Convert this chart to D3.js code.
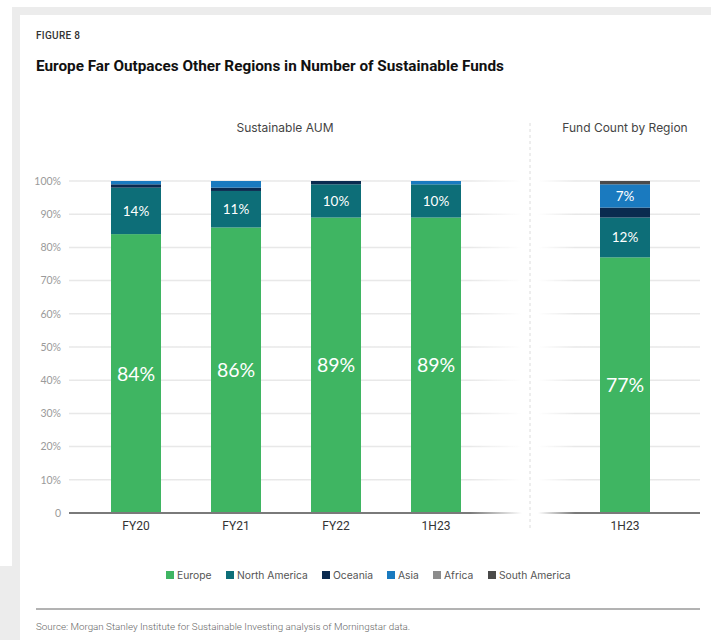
<!DOCTYPE html>
<html>
<head>
<meta charset="utf-8">
<script src="https://cdn.jsdelivr.net/npm/d3@7"></script>
<style>
  html, body { margin: 0; padding: 0; background: #fff; }
  svg { display: block; }
</style>
</head>
<body>
<svg id="chart" width="711" height="640"></svg>
<script>
// Region shares (% of total), stacked bottom-to-top
const regions = ["Europe", "North America", "Oceania", "Asia", "Africa", "South America"];
const regionColors = ["#3fb562", "#0d6e78", "#0a2a4f", "#1a7abf", "#8c8c8c", "#4a4a4a"];

// Sustainable AUM by period
const aumPeriods = ["FY20", "FY21", "FY22", "1H23"];
const aumEurope       = [84, 86, 89, 89];
const aumNorthAmerica = [14, 11, 10, 10];
const aumOceania      = [1, 1, 1, 0];
const aumAsia         = [1, 2, 0, 1];
const aumAfrica       = [0, 0, 0, 0];
const aumSouthAmerica = [0, 0, 0, 0];

// Fund count by region
const countPeriods = ["1H23"];
const countEurope       = [77];
const countNorthAmerica = [12];
const countOceania      = [3];
const countAsia         = [7];
const countAfrica       = [0];
const countSouthAmerica = [1];

const yTicks = [0, 10, 20, 30, 40, 50, 60, 70, 80, 90, 100];

function rows(periods, cols) {
  return periods.map((p, i) => {
    const r = { period: p };
    regions.forEach((reg, k) => r[reg] = cols[k][i]);
    return r;
  });
}
const aumData = rows(aumPeriods, [aumEurope, aumNorthAmerica, aumOceania, aumAsia, aumAfrica, aumSouthAmerica]);
const countData = rows(countPeriods, [countEurope, countNorthAmerica, countOceania, countAsia, countAfrica, countSouthAmerica]);

const svg = d3.select("#chart");
const color = d3.scaleOrdinal(regions, regionColors);
const y = d3.scaleLinear([0, 100], [513, 181]);

// Page frame
svg.append("rect").attr("x", 12).attr("y", 7).attr("width", 699).attr("height", 8).attr("fill", "#ececec");
svg.append("rect").attr("x", 12).attr("y", 7).attr("width", 8).attr("height", 633).attr("fill", "#ececec");
svg.append("rect").attr("x", 0).attr("y", 566).attr("width", 20).attr("height", 74).attr("fill", "#ececec");

// Headings
svg.append("text").attr("x", 36).attr("y", 39)
  .attr("font-family", "Roboto, sans-serif").attr("font-size", 10).attr("font-weight", 500)
  .attr("fill", "#333").attr("letter-spacing", 0.3).text("FIGURE 8");
svg.append("text").attr("x", 36).attr("y", 71)
  .attr("font-family", "Roboto, sans-serif").attr("font-size", 15.3).attr("font-weight", 700)
  .attr("fill", "#111").text("Europe Far Outpaces Other Regions in Number of Sustainable Funds");

svg.append("text").attr("x", 285).attr("y", 132).attr("text-anchor", "middle")
  .attr("font-family", "Inter, Roboto, sans-serif").attr("font-size", 12)
  .attr("fill", "#444").text("Sustainable AUM");
svg.append("text").attr("x", 625).attr("y", 132).attr("text-anchor", "middle")
  .attr("font-family", "Inter, Roboto, sans-serif").attr("font-size", 12)
  .attr("fill", "#444").text("Fund Count by Region");

// Fading gradients for grid and baseline ends
const defs = svg.append("defs");
function fade(id, x1, x2, c, leftOpaque) {
  const g = defs.append("linearGradient").attr("id", id)
    .attr("gradientUnits", "userSpaceOnUse").attr("x1", x1).attr("x2", x2).attr("y1", 0).attr("y2", 0);
  g.append("stop").attr("offset", 0).attr("stop-color", c).attr("stop-opacity", leftOpaque ? 1 : 0);
  g.append("stop").attr("offset", 1).attr("stop-color", c).attr("stop-opacity", leftOpaque ? 0 : 1);
}
fade("gridL", 470, 522, "#e8e8e8", true);
fade("gridR", 538, 575, "#e8e8e8", false);
fade("baseL", 470, 522, "#7a7a7a", true);
fade("baseR", 538, 575, "#7a7a7a", false);

// Y axis labels and gridlines
const yAxis = d3.axisLeft(y).tickValues(yTicks).tickSize(0).tickPadding(8)
  .tickFormat(d => d === 0 ? "0" : d + "%");
const ya = svg.append("g").attr("transform", "translate(69,0)").call(yAxis);
ya.select(".domain").remove();
ya.selectAll("text").attr("font-family", "Lato, sans-serif").attr("font-size", 10.5).attr("fill", "#9a9a9a");

const gridTicks = yTicks.filter(d => d > 0);
svg.append("g").selectAll("line").data(gridTicks).join("line")
  .attr("x1", 69).attr("x2", 522).attr("y1", d => y(d)).attr("y2", d => y(d))
  .attr("stroke", "url(#gridL)").attr("stroke-width", 1.5);
svg.append("g").selectAll("line").data(gridTicks).join("line")
  .attr("x1", 538).attr("x2", 700).attr("y1", d => y(d)).attr("y2", d => y(d))
  .attr("stroke", "url(#gridR)").attr("stroke-width", 1.5);

// Panel divider
svg.append("line").attr("x1", 530).attr("x2", 530).attr("y1", 123).attr("y2", 530)
  .attr("stroke", "#dcdcdc").attr("stroke-width", 1).attr("stroke-dasharray", "3,3");

const stack = d3.stack().keys(regions);

function drawPanel(data, x) {
  const series = stack(data);
  const g = svg.append("g");
  g.selectAll("g").data(series).join("g")
    .attr("fill", s => color(s.key))
    .selectAll("rect").data(s => s.filter(d => d[1] > d[0])).join("rect")
      .attr("x", d => x(d.data.period))
      .attr("width", x.bandwidth())
      .attr("y", d => y(d[1]))
      .attr("height", d => y(d[0]) - y(d[1]));

  // Value labels on Europe and North America segments
  const labelled = [
    { key: "Europe", size: 19.5 },
    { key: "North America", size: 13.5 }
  ];
  labelled.forEach(({ key, size }) => {
    const s = series.find(t => t.key === key);
    g.append("g").selectAll("text").data(s).join("text")
      .attr("x", d => x(d.data.period) + x.bandwidth() / 2)
      .attr("y", d => y((d[0] + d[1]) / 2))
      .attr("dy", "0.36em").attr("text-anchor", "middle")
      .attr("font-family", "Lato, sans-serif").attr("font-size", size).attr("font-weight", 400)
      .attr("fill", "#fff").text(d => d.data[key] + "%");
  });

  // Period labels
  g.append("g").selectAll("text").data(data).join("text")
    .attr("x", d => x(d.period) + x.bandwidth() / 2).attr("y", 530)
    .attr("text-anchor", "middle")
    .attr("font-family", "'Liberation Sans Narrow', Roboto, sans-serif").attr("font-size", 12)
    .attr("fill", "#333").text(d => d.period);
  return series;
}

const xL = d3.scaleBand(aumPeriods, [86, 486]).paddingInner(0.5).paddingOuter(0.25);
drawPanel(aumData, xL);

const xR = d3.scaleBand(countPeriods, [550, 700]).paddingInner(0).paddingOuter(1);
const rSeries = drawPanel(countData, xR);
// Asia label on the fund-count bar
const asia = rSeries.find(t => t.key === "Asia")[0];
svg.append("text")
  .attr("x", xR("1H23") + xR.bandwidth() / 2).attr("y", y((asia[0] + asia[1]) / 2))
  .attr("dy", "0.36em").attr("text-anchor", "middle")
  .attr("font-family", "Lato, sans-serif").attr("font-size", 13.5).attr("font-weight", 400)
  .attr("fill", "#fff").text(asia.data["Asia"] + "%");

// Baselines
svg.append("line").attr("x1", 69).attr("x2", 522).attr("y1", y(0)).attr("y2", y(0))
  .attr("stroke", "url(#baseL)").attr("stroke-width", 2);
svg.append("line").attr("x1", 538).attr("x2", 700).attr("y1", y(0)).attr("y2", y(0))
  .attr("stroke", "url(#baseR)").attr("stroke-width", 2);

// Legend
const legendX = [166, 226, 322, 387, 433, 488];
const lg = svg.append("g").selectAll("g").data(regions).join("g")
  .attr("transform", (d, i) => `translate(${legendX[i]},575)`);
lg.append("rect").attr("x", 0).attr("y", -4).attr("width", 8).attr("height", 8).attr("fill", d => color(d));
lg.append("text").attr("x", 11).attr("y", 0).attr("dy", "0.35em")
  .attr("font-family", "Inter, Roboto, sans-serif").attr("font-size", 10.3)
  .attr("fill", "#555").text(d => d);

// Footer
svg.append("line").attr("x1", 36).attr("x2", 700).attr("y1", 609).attr("y2", 609)
  .attr("stroke", "#666").attr("stroke-width", 1);
svg.append("text").attr("x", 36).attr("y", 630)
  .attr("font-family", "Roboto, sans-serif").attr("font-size", 9.8).attr("font-weight", 300)
  .attr("fill", "#666").text("Source: Morgan Stanley Institute for Sustainable Investing analysis of Morningstar data.");
</script>
</body>
</html>
